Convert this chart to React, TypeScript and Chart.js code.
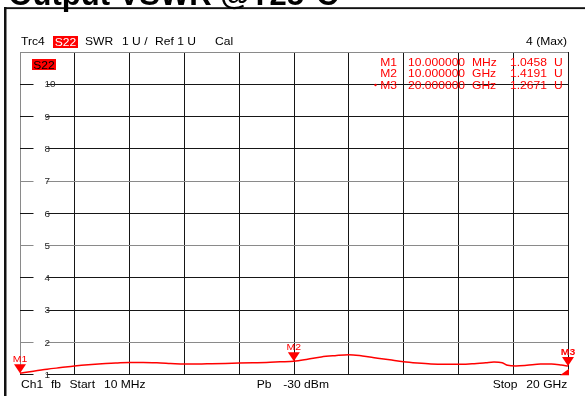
import React, { useEffect, useRef } from "react";
import { Chart, registerables } from "chart.js";

Chart.register(...registerables);

// Sweep settings (GHz)
const startGHz = 0.01;
const stopGHz = 20;

// Trace 4: S22 as SWR
const freqGHz = [
  0.01, 0.5, 1.0, 1.5, 2.0, 2.5, 3.0, 3.5, 4.0, 4.5,
  5.0, 5.5, 6.0, 6.5, 7.0, 7.5, 8.0, 8.5, 9.0, 9.5,
  10.0, 10.5, 11.0, 11.5, 12.0, 12.5, 13.0, 13.5, 14.0, 14.5,
  15.0, 15.5, 16.0, 16.5, 17.0, 17.3, 17.6, 17.8, 18.1, 18.5,
  19.0, 19.4, 19.75, 20.0,
];
const vswr = [
  1.0458, 1.11, 1.17, 1.22, 1.27, 1.31, 1.34, 1.36, 1.38, 1.38,
  1.37, 1.35, 1.33, 1.33, 1.34, 1.35, 1.36, 1.37, 1.38, 1.40,
  1.4191, 1.48, 1.55, 1.59, 1.62, 1.58, 1.52, 1.46, 1.40, 1.36,
  1.33, 1.32, 1.32, 1.34, 1.37, 1.39, 1.37, 1.29, 1.27, 1.29,
  1.33, 1.33, 1.30, 1.2671,
];

// Markers
const markerNames = ["M1", "M2", "M3"];
const markerFreqGHz = [0.01, 10, 20];
const markerFreqText = ["10.000000", "10.000000", "20.000000"];
const markerFreqUnit = ["MHz", "GHz", "GHz"];
const markerVswr = [1.0458, 1.4191, 1.2671];
const activeMarker = 2;

// Vertical axis: 1 U/div, 1..11
const yMin = 1;
const yMax = 11;
const yLabels = [1, 2, 3, 4, 5, 6, 7, 8, 9, 10];
const lightRows = [11, 7, 5, 2];

const FONT = '"Liberation Sans", Arial, sans-serif';
const RED = "#ff0000";

type TxtOpts = {
  size?: number;
  bold?: boolean;
  color?: string;
  align?: CanvasTextAlign;
  sx?: number;
};

function txt(ctx: CanvasRenderingContext2D, s: string, x: number, y: number, o: TxtOpts = {}) {
  const { size = 10.5, bold = false, color = "#000", align = "left", sx = 1.15 } = o;
  ctx.save();
  ctx.font = `${bold ? "bold " : ""}${size}px ${FONT}`;
  ctx.fillStyle = color;
  ctx.textAlign = align;
  ctx.textBaseline = "alphabetic";
  ctx.translate(x, y);
  ctx.scale(sx, 1);
  ctx.fillText(s, 0, 0);
  ctx.restore();
}

const analyzerOverlay = {
  id: "analyzerOverlay",
  beforeDatasetsDraw(chart: any) {
    const { ctx, scales } = chart;
    const y = scales.y;
    ctx.save();
    // level labels sit in a gap of each horizontal grid line
    for (const v of yLabels) {
      const py = y.getPixelForValue(v);
      ctx.fillStyle = "#fff";
      ctx.fillRect(33.5, py - 2, 13, 4);
      txt(ctx, String(v), 44.5, py + 3.2, { size: 9, sx: 1.1, color: "#2a2a2a" });
    }
    ctx.restore();
  },
  afterDatasetsDraw(chart: any) {
    const { ctx, scales } = chart;
    const x = scales.x;
    const y = scales.y;
    ctx.save();
    markerNames.forEach((name, i) => {
      const px = x.getPixelForValue(markerFreqGHz[i]);
      const py = y.getPixelForValue(markerVswr[i]);
      ctx.beginPath();
      ctx.moveTo(px - 6, py - 9);
      ctx.lineTo(px + 6, py - 9);
      ctx.lineTo(px, py);
      ctx.closePath();
      ctx.fillStyle = RED;
      ctx.fill();
      txt(ctx, name, px, py - 11, {
        size: 9.5,
        sx: 1.1,
        color: RED,
        align: "center",
        bold: i === activeMarker,
      });
    });
    // stop-edge indicator
    const ex = x.getPixelForValue(stopGHz);
    const ey = y.getPixelForValue(yMin);
    ctx.beginPath();
    ctx.moveTo(ex - 8, ey + 0.5);
    ctx.lineTo(ex + 1, ey + 0.5);
    ctx.lineTo(ex + 1, ey - 6);
    ctx.closePath();
    ctx.fillStyle = RED;
    ctx.fill();
    ctx.restore();
  },
  afterDraw(chart: any) {
    const { ctx } = chart;
    ctx.save();

    // frame and heading
    ctx.fillStyle = "#111";
    ctx.fillRect(4, 7, 2.5, 389);
    ctx.fillRect(4, 7.2, 581, 1.9);
    txt(ctx, "Output VSWR @T25°C", 8.5, 4.5, { size: 31, bold: true, sx: 1 });

    // trace header line
    txt(ctx, "Trc4", 21, 45);
    ctx.fillStyle = RED;
    ctx.fillRect(53, 36, 25, 12);
    txt(ctx, "S22", 65.5, 45.5, { color: "#fff", align: "center" });
    txt(ctx, "SWR", 85, 45);
    txt(ctx, "1 U /", 122, 45);
    txt(ctx, "Ref 1 U", 155, 45);
    txt(ctx, "Cal", 215, 45);
    txt(ctx, "4 (Max)", 567, 45, { align: "right" });

    // trace tag inside the diagram
    ctx.fillStyle = RED;
    ctx.fillRect(32, 59, 24, 11);
    txt(ctx, "S22", 44, 69, { align: "center" });

    // marker table
    const rowY = [65.5, 77, 88.5];
    markerNames.forEach((name, i) => {
      const by = rowY[i];
      txt(ctx, name, 397, by, { color: RED, align: "right" });
      txt(ctx, markerFreqText[i], 408, by, { color: RED });
      txt(ctx, markerFreqUnit[i], 472, by, { color: RED });
      txt(ctx, markerVswr[i].toFixed(4), 510, by, { color: RED });
      txt(ctx, "U", 554, by, { color: RED });
      if (i === activeMarker) {
        ctx.beginPath();
        ctx.arc(375.5, by - 3.5, 1.2, 0, Math.PI * 2);
        ctx.fillStyle = RED;
        ctx.fill();
      }
    });

    // channel footer
    txt(ctx, "Ch1", 21, 388);
    txt(ctx, "fb", 51, 388);
    txt(ctx, "Start", 69.5, 388);
    txt(ctx, "10 MHz", 104, 388);
    txt(ctx, "Pb", 256.7, 388);
    txt(ctx, "-30 dBm", 283.3, 388);
    txt(ctx, "Stop", 492.7, 388);
    txt(ctx, "20 GHz", 567.3, 388, { align: "right" });

    ctx.restore();
  },
};

export default function App() {
  const canvasRef = useRef<HTMLCanvasElement | null>(null);

  useEffect(() => {
    const canvas = canvasRef.current;
    if (!canvas) return;
    const points = freqGHz.map((f, i) => ({ x: f, y: vswr[i] }));
    const xDivisions = Array.from({ length: 11 }, (_, i) => startGHz + ((stopGHz - startGHz) * i) / 10);

    const chart = new Chart(canvas, {
      type: "line",
      data: {
        datasets: [
          {
            data: points,
            borderColor: RED,
            borderWidth: 1.5,
            pointRadius: 0,
            fill: false,
            cubicInterpolationMode: "monotone",
          },
        ],
      },
      options: {
        animation: false,
        responsive: false,
        events: [],
        layout: { padding: { left: 20, right: 17, top: 52, bottom: 21.3 } },
        plugins: {
          legend: { display: false },
          tooltip: { enabled: false },
        },
        scales: {
          x: {
            type: "linear",
            min: startGHz,
            max: stopGHz,
            ticks: { display: false },
            border: { display: false },
            grid: {
              drawTicks: false,
              lineWidth: 1,
              color: (c: any) => (c.index === 0 ? "#8a8a8a" : "#161616"),
            },
            afterBuildTicks: (s: any) => {
              s.ticks = xDivisions.map((v) => ({ value: v }));
            },
            afterFit: (s: any) => {
              s.height = 0;
            },
          },
          y: {
            type: "linear",
            min: yMin,
            max: yMax,
            ticks: { display: false, stepSize: 1 },
            border: { display: false },
            grid: {
              drawTicks: false,
              lineWidth: 1,
              color: (c: any) => (lightRows.includes(c.tick?.value) ? "#8a8a8a" : "#161616"),
            },
            afterFit: (s: any) => {
              s.width = 0;
            },
          },
        },
      },
      plugins: [analyzerOverlay],
    } as any);

    return () => chart.destroy();
  }, []);

  return (
    <div style={{ position: "absolute", left: 0, top: 0, width: 585, height: 396, background: "#fff" }}>
      <canvas ref={canvasRef} width={585} height={396} style={{ display: "block" }} />
    </div>
  );
}
